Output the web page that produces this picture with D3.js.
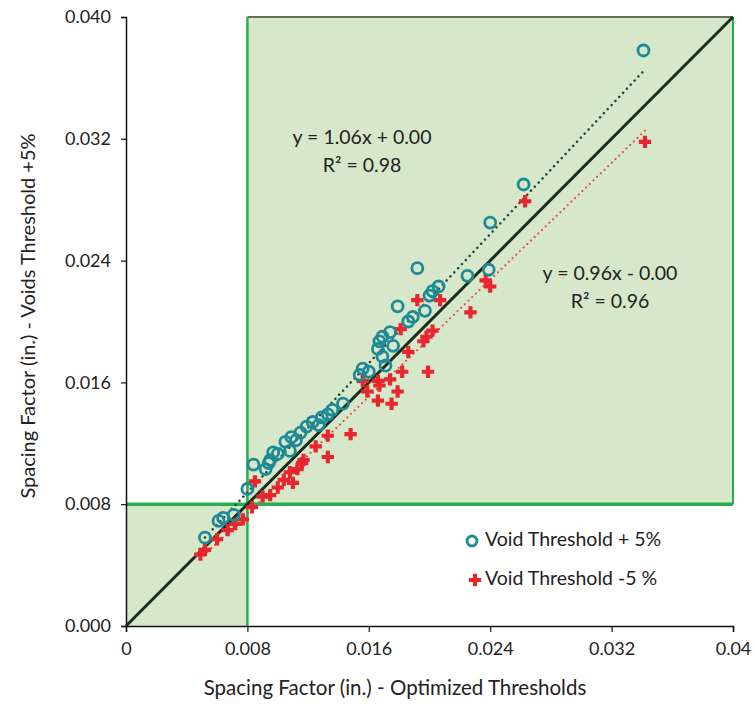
<!DOCTYPE html>
<html>
<head>
<meta charset="utf-8">
<script src="https://cdn.jsdelivr.net/npm/d3@7"></script>
<style>
  body { margin: 0; background: #fff; }
  text { font-family: Lato, "Open Sans", sans-serif; fill: #222; }
</style>
</head>
<body>
<div id="chart"></div>
<script>
// tick labels
var xTicks = [0, 0.008, 0.016, 0.024, 0.032, 0.04];
var xTickLabels = ["0", "0.008", "0.016", "0.024", "0.032", "0.04"];
var yTicks = [0, 0.008, 0.016, 0.024, 0.032, 0.04];
var yTickLabels = ["0.000", "0.008", "0.016", "0.024", "0.032", "0.040"];

// Void Threshold + 5% (x = optimized, y = +5%)
var plusX = [0.0341, 0.0262, 0.0240, 0.0239, 0.0225, 0.0192, 0.0179, 0.0206, 0.0202, 0.0200,
  0.0197, 0.0189, 0.0186, 0.0174, 0.0169, 0.0167, 0.0166, 0.0169, 0.0176, 0.0156,
  0.0154, 0.0143, 0.0136, 0.0133, 0.0129, 0.0123, 0.0119, 0.0115, 0.0109, 0.0105,
  0.0097, 0.0094, 0.0092, 0.0108, 0.0100, 0.0095, 0.0084, 0.0080, 0.0071, 0.0064,
  0.0061, 0.0052, 0.0112, 0.0127, 0.0171, 0.0160];
var plusY = [0.0378, 0.0290, 0.0265, 0.0234, 0.0230, 0.0235, 0.0210, 0.0223, 0.0220, 0.0217,
  0.0207, 0.0203, 0.0200, 0.0193, 0.0190, 0.0187, 0.0182, 0.0177, 0.0184, 0.0169,
  0.0165, 0.0146, 0.0142, 0.0139, 0.0137, 0.0134, 0.0131, 0.0127, 0.0124, 0.0121,
  0.0114, 0.0107, 0.0103, 0.0115, 0.0113, 0.0109, 0.0106, 0.0090, 0.0073, 0.0071,
  0.0069, 0.0058, 0.0122, 0.0132, 0.0171, 0.0167];

// Void Threshold -5 %
var minusX = [0.0342, 0.0263, 0.0240, 0.0237, 0.0227, 0.0207, 0.0192, 0.0202, 0.0198, 0.0196,
  0.0181, 0.0186, 0.0182, 0.0199, 0.0174, 0.0166, 0.0156, 0.0179, 0.0167, 0.0159,
  0.0166, 0.0175, 0.0148, 0.0133, 0.0125, 0.0133, 0.0116, 0.0108, 0.0110, 0.0117,
  0.0113, 0.0104, 0.0100, 0.0095, 0.0090, 0.0085, 0.0083, 0.0077, 0.0072, 0.0067,
  0.0060, 0.0052, 0.0049];
var minusY = [0.0318, 0.0279, 0.0223, 0.0227, 0.0206, 0.0214, 0.0214, 0.0194, 0.0190, 0.0187,
  0.0195, 0.0180, 0.0167, 0.0167, 0.0162, 0.0161, 0.0161, 0.0154, 0.0158, 0.0154,
  0.0148, 0.0146, 0.0126, 0.0125, 0.0118, 0.0111, 0.0107, 0.0101, 0.0094, 0.0109,
  0.0103, 0.0096, 0.0091, 0.0086, 0.0085, 0.0095, 0.0078, 0.0070, 0.0067, 0.0063,
  0.0057, 0.0050, 0.0047];

// trend lines
var plusFit = { slope: 1.06, intercept: 0.0003, label: "y = 1.06x + 0.00", r2: "R² = 0.98" };
var minusFit = { slope: 0.96, intercept: -0.0003, label: "y = 0.96x - 0.00", r2: "R² = 0.96" };
var limit = 0.008;

var svgW = 755;
var svgH = 712;
var margin = { top: 17, right: 22, bottom: 86, left: 126 };
var width = svgW - margin.left - margin.right;
var height = svgH - margin.top - margin.bottom;

var svg = d3.select("#chart").append("svg")
  .attr("width", svgW)
  .attr("height", svgH);

var g = svg.append("g")
  .attr("transform", `translate(${margin.left}, ${margin.top})`);

var x = d3.scaleLinear().domain([0, 0.04]).range([0, width]);
var y = d3.scaleLinear().domain([0, 0.04]).range([height, 0]);

var shade = "#d6e7ca";
var green = "#27ae4f";

// shaded zones
g.append("rect")
  .attr("x", x(limit)).attr("y", y(0.04))
  .attr("width", x(0.04) - x(limit)).attr("height", y(limit) - y(0.04))
  .attr("fill", shade);
g.append("rect")
  .attr("x", x(0)).attr("y", y(limit))
  .attr("width", x(limit) - x(0)).attr("height", y(0) - y(limit))
  .attr("fill", shade);

// box borders
g.append("line")
  .attr("x1", x(limit)).attr("x2", x(0.04))
  .attr("y1", y(0.04)).attr("y2", y(0.04))
  .attr("stroke", "#6b6b5e").attr("stroke-width", 2);
g.append("line")
  .attr("x1", x(0.04)).attr("x2", x(0.04))
  .attr("y1", y(0.04)).attr("y2", y(limit))
  .attr("stroke", green).attr("stroke-width", 2);
g.append("line")
  .attr("x1", x(limit)).attr("x2", x(limit))
  .attr("y1", y(0.04)).attr("y2", y(0))
  .attr("stroke", green).attr("stroke-width", 2.5);
g.append("line")
  .attr("x1", x(0)).attr("x2", x(0.04))
  .attr("y1", y(limit)).attr("y2", y(limit))
  .attr("stroke", green).attr("stroke-width", 3.5);

// axes
var bottomAxis = d3.axisBottom(x).tickValues(xTicks)
  .tickFormat((d, i) => xTickLabels[i]).tickSize(6).tickPadding(10);
var leftAxis = d3.axisLeft(y).tickValues(yTicks)
  .tickFormat((d, i) => yTickLabels[i]).tickSize(5).tickPadding(10);

var xAxis = g.append("g")
  .attr("transform", `translate(0, ${height})`)
  .call(bottomAxis);
var yAxis = g.append("g").call(leftAxis);

[xAxis, yAxis].forEach(function(a) {
  a.select(".domain").attr("stroke", "#111").attr("stroke-width", 1.5);
  a.selectAll(".tick line").attr("stroke", "#111").attr("stroke-width", 1.2);
  a.selectAll(".tick text").attr("font-size", "18px").attr("fill", "#333");
});

// 1:1 line
g.append("line")
  .attr("x1", x(0)).attr("y1", y(0))
  .attr("x2", x(0.04)).attr("y2", y(0.04))
  .attr("stroke", "#1b2e1c").attr("stroke-width", 3);

function fitLine(xs, fit, color, width, dash) {
  var x0 = d3.min(xs), x1 = d3.max(xs);
  g.append("line")
    .attr("x1", x(x0)).attr("y1", y(fit.slope * x0 + fit.intercept))
    .attr("x2", x(x1)).attr("y2", y(fit.slope * x1 + fit.intercept))
    .attr("stroke", color)
    .attr("stroke-width", width)
    .attr("stroke-dasharray", dash)
    .attr("stroke-linecap", "round");
}
fitLine(plusX, plusFit, "#24463a", 2.5, "0.1,5.5");
fitLine(minusX, minusFit, "#e3453f", 2, "0.1,5");

// Void Threshold -5 % markers
var cross = d3.symbol().type(d3.symbolCross).size(85);
g.selectAll(".minus")
  .data(minusX)
  .enter()
  .append("path")
  .attr("class", "minus")
  .attr("d", cross)
  .attr("transform", (d, i) => `translate(${x(d)}, ${y(minusY[i])})`)
  .attr("fill", "#e8262e");

// Void Threshold + 5% markers
g.selectAll(".plus")
  .data(plusX)
  .enter()
  .append("circle")
  .attr("class", "plus")
  .attr("cx", d => x(d))
  .attr("cy", (d, i) => y(plusY[i]))
  .attr("r", 5.5)
  .attr("fill", "none")
  .attr("stroke", "#1d8a96")
  .attr("stroke-width", 2.8);

// equations
function eq(fit, cx, cy) {
  g.append("text").attr("x", cx).attr("y", cy)
    .attr("text-anchor", "middle").attr("dominant-baseline", "middle")
    .attr("font-size", "19.5px").attr("fill", "#333").text(fit.label);
  g.append("text").attr("x", cx).attr("y", cy + 28)
    .attr("text-anchor", "middle").attr("dominant-baseline", "middle")
    .attr("font-size", "19.5px").attr("fill", "#333").text(fit.r2);
}
eq(plusFit, 362 - margin.left, 139 - margin.top);
eq(minusFit, 610 - margin.left, 275 - margin.top);

// legend
var legend = g.append("g").attr("transform", `translate(${472 - margin.left}, ${541 - margin.top})`);
legend.append("circle").attr("cx", 0).attr("cy", 0).attr("r", 5)
  .attr("fill", "none").attr("stroke", "#1d8a96").attr("stroke-width", 2.8);
legend.append("text").attr("x", 13).attr("y", 0).attr("dominant-baseline", "middle")
  .attr("font-size", "19.5px").text("Void Threshold + 5%");
legend.append("path").attr("d", cross)
  .attr("transform", "translate(3, 39)").attr("fill", "#e8262e");
legend.append("text").attr("x", 13).attr("y", 39).attr("dominant-baseline", "middle")
  .attr("font-size", "19.5px").text("Void Threshold -5 %");

// axis titles
svg.append("text")
  .attr("x", 395).attr("y", 690)
  .attr("text-anchor", "middle").attr("dominant-baseline", "middle")
  .attr("font-size", "20.5px").attr("fill", "#333")
  .text("Spacing Factor (in.) - Optimized Thresholds");

svg.append("text")
  .attr("transform", "translate(30, 316) rotate(-90)")
  .attr("text-anchor", "middle").attr("dominant-baseline", "middle")
  .attr("font-size", "20px").attr("fill", "#333")
  .text("Spacing Factor (in.) - Voids Threshold +5%");
</script>
</body>
</html>
